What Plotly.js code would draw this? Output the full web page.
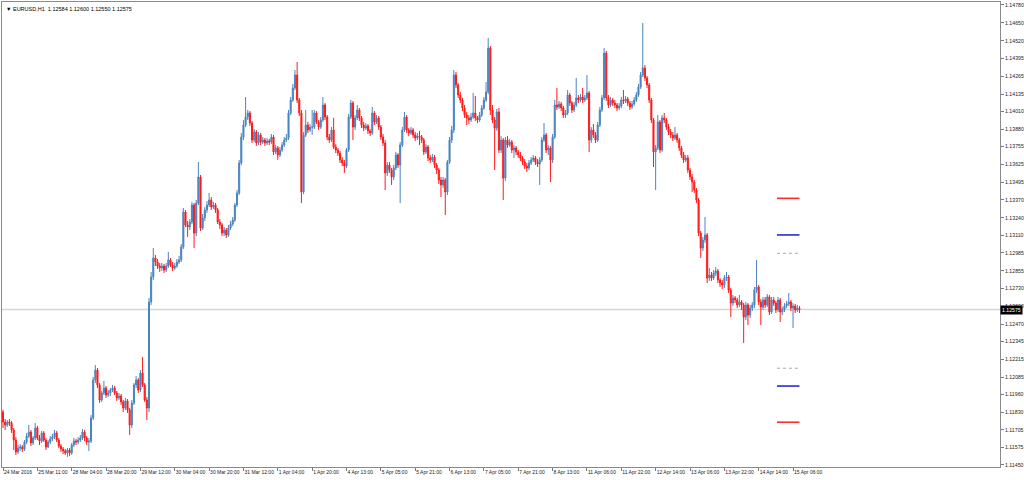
<!DOCTYPE html>
<html>
<head>
<meta charset="utf-8">
<script src="https://cdn.plot.ly/plotly-3.0.1.min.js"></script>
<style>
html,body{margin:0;padding:0;background:#fff;}
#chart{width:1024px;height:480px;}
</style>
</head>
<body>
<div id="chart"></div>
<script>
const symbolTitle = "EURUSD,H1";
const lastBarText = ["1.12584", "1.12600", "1.12550", "1.12575"];

const opens = [
1.11833,1.11761,1.11739,1.11761,1.11753,1.11703,1.11630,1.11544,1.11572,1.11580,
1.11565,1.11616,1.11659,1.11688,1.11609,1.11645,1.11717,1.11645,1.11623,1.11681,
1.11630,1.11580,1.11616,1.11638,1.11652,1.11681,1.11630,1.11587,1.11565,1.11551,
1.11537,1.11558,1.11537,1.11594,1.11623,1.11616,1.11630,1.11645,1.11688,1.11645,
1.11616,1.11623,1.11790,1.12065,1.12137,1.12029,1.11920,1.11971,1.12007,1.11956,
1.11971,1.11992,1.12007,1.11971,1.11935,1.11949,1.11906,1.11862,1.11913,1.11848,
1.11739,1.11898,1.12029,1.12065,1.11992,1.12116,1.12029,1.11920,1.11862,1.12630,
1.12811,1.12948,1.12919,1.12890,1.12876,1.12890,1.12861,1.12890,1.12934,1.12897,
1.12876,1.12890,1.12919,1.12934,1.13028,1.13281,1.13187,1.13173,1.13209,1.13332,
1.13129,1.13346,1.13535,1.13165,1.13238,1.13296,1.13332,1.13368,1.13317,1.13332,
1.13296,1.13209,1.13187,1.13129,1.13151,1.13115,1.13165,1.13194,1.13223,1.13332,
1.13419,1.13636,1.13824,1.13911,1.13969,1.13998,1.13925,1.13802,1.13860,1.13781,
1.13839,1.13788,1.13802,1.13781,1.13795,1.13788,1.13824,1.13716,1.13745,1.13694,
1.13730,1.13766,1.13802,1.13817,1.13998,1.14092,1.14179,1.14273,1.14092,1.13998,
1.13426,1.13839,1.13911,1.13875,1.13896,1.13896,1.13998,1.13933,1.13896,1.13947,
1.14056,1.13969,1.13824,1.13802,1.13875,1.13752,1.13730,1.13708,1.13658,1.13636,
1.13614,1.13730,1.13969,1.14070,1.13896,1.13962,1.14020,1.13962,1.13911,1.13889,
1.13904,1.13868,1.13853,1.13998,1.13933,1.13962,1.13896,1.13824,1.13781,1.13564,
1.13621,1.13585,1.13535,1.13600,1.13694,1.13621,1.13766,1.13875,1.13969,1.13875,
1.13853,1.13875,1.13839,1.13817,1.13831,1.13824,1.13802,1.13716,1.13752,1.13672,
1.13658,1.13679,1.13621,1.13585,1.13513,1.13477,1.13513,1.13426,1.13643,1.13802,
1.13875,1.14273,1.14201,1.14128,1.14092,1.14034,1.13983,1.13962,1.13947,1.13969,
1.13998,1.13962,1.13947,1.13983,1.14034,1.14092,1.14150,1.14468,1.14020,1.13947,
1.13889,1.14005,1.13730,1.13802,1.13527,1.13802,1.13766,1.13788,1.13730,1.13745,
1.13716,1.13694,1.13672,1.13643,1.13614,1.13600,1.13636,1.13658,1.13672,1.13643,
1.13629,1.13658,1.13802,1.13839,1.13730,1.13745,1.13658,1.13824,1.14056,1.14041,
1.14063,1.14034,1.13983,1.13998,1.14128,1.14070,1.14020,1.14056,1.14107,1.14092,
1.14114,1.14092,1.14107,1.14143,1.13802,1.13875,1.13839,1.13802,1.13911,1.14020,
1.14107,1.14432,1.14107,1.14056,1.14092,1.14070,1.14056,1.14034,1.14049,1.14092,
1.14085,1.14099,1.14070,1.14041,1.14063,1.14092,1.14128,1.14186,1.14273,1.14324,
1.14251,1.14201,1.14092,1.13947,1.13716,1.13745,1.13933,1.13730,1.13962,1.13947,
1.13896,1.13860,1.13839,1.13817,1.13839,1.13802,1.13745,1.13694,1.13658,1.13672,
1.13585,1.13535,1.13498,1.13440,1.13368,1.13129,1.13020,1.13078,1.13115,1.12803,
1.12825,1.12803,1.12839,1.12854,1.12789,1.12767,1.12753,1.12803,1.12811,1.12716,
1.12622,1.12659,1.12644,1.12608,1.12630,1.12608,1.12521,1.12608,1.12535,1.12586,
1.12608,1.12716,1.12738,1.12630,1.12593,1.12644,1.12608,1.12666,1.12557,1.12644,
1.12622,1.12572,1.12644,1.12557,1.12572,1.12601,1.12615,1.12630,1.12586,1.12601,
1.12572,1.12584
];

const highs = [
1.11848,1.11782,1.11775,1.11782,1.11768,1.11717,1.11652,1.11594,1.11601,1.11594,
1.11630,1.11681,1.11739,1.11703,1.11659,1.11753,1.11732,1.11667,1.11696,1.11696,
1.11645,1.11630,1.11659,1.11674,1.11703,1.11696,1.11645,1.11601,1.11580,1.11565,
1.11572,1.11572,1.11609,1.11645,1.11638,1.11652,1.11667,1.11710,1.11703,1.11659,
1.11645,1.11811,1.12087,1.12173,1.12152,1.12043,1.11985,1.12058,1.12021,1.11992,
1.12007,1.12029,1.12021,1.11985,1.11971,1.11963,1.11920,1.11935,1.11927,1.11862,
1.11920,1.12043,1.12094,1.12079,1.12137,1.12231,1.12043,1.11942,1.12659,1.12847,
1.13020,1.12970,1.12941,1.12912,1.12912,1.12905,1.12912,1.12992,1.12948,1.12919,
1.12912,1.12941,1.12963,1.13049,1.13310,1.13296,1.13216,1.13230,1.13354,1.13346,
1.13368,1.13643,1.13549,1.13267,1.13317,1.13361,1.13419,1.13390,1.13354,1.13346,
1.13310,1.13230,1.13202,1.13173,1.13165,1.13187,1.13216,1.13245,1.13346,1.13440,
1.13658,1.13853,1.13947,1.14114,1.14020,1.14012,1.13940,1.13882,1.13875,1.13860,
1.13853,1.13824,1.13817,1.13817,1.13810,1.13846,1.13839,1.13766,1.13759,1.13752,
1.13788,1.13824,1.13846,1.14020,1.14114,1.14208,1.14309,1.14367,1.14107,1.14020,
1.13860,1.14020,1.13933,1.13918,1.14020,1.14020,1.14012,1.13947,1.13969,1.14114,
1.14070,1.13983,1.13846,1.13896,1.13962,1.13773,1.13745,1.13723,1.13679,1.13658,
1.13745,1.13991,1.14092,1.14085,1.13983,1.14056,1.14034,1.13976,1.13933,1.13925,
1.13918,1.13882,1.14041,1.14012,1.13983,1.13976,1.13911,1.13846,1.13802,1.13643,
1.13643,1.13600,1.13621,1.13716,1.13708,1.13788,1.13896,1.14005,1.13983,1.13889,
1.13896,1.13889,1.13860,1.13853,1.13868,1.13839,1.13817,1.13773,1.13766,1.13694,
1.13701,1.13694,1.13636,1.13600,1.13535,1.13535,1.13527,1.13658,1.13824,1.13904,
1.14309,1.14295,1.14215,1.14150,1.14107,1.14056,1.14005,1.13983,1.13998,1.14143,
1.14121,1.13976,1.14005,1.14056,1.14114,1.14222,1.14541,1.14483,1.14056,1.13969,
1.14027,1.14034,1.13831,1.13817,1.13824,1.13831,1.13810,1.13802,1.13766,1.13759,
1.13730,1.13716,1.13687,1.13665,1.13636,1.13658,1.13679,1.13694,1.13687,1.13665,
1.13679,1.13824,1.13925,1.13853,1.13766,1.13759,1.13846,1.14092,1.14179,1.14085,
1.14078,1.14049,1.14020,1.14164,1.14143,1.14085,1.14078,1.14251,1.14128,1.14135,
1.14179,1.14128,1.14273,1.14157,1.13896,1.13918,1.13860,1.13933,1.14041,1.14128,
1.14468,1.14447,1.14128,1.14114,1.14107,1.14092,1.14070,1.14070,1.14114,1.14164,
1.14121,1.14114,1.14085,1.14085,1.14114,1.14150,1.14208,1.14295,1.14650,1.14345,
1.14266,1.14215,1.14107,1.13962,1.13766,1.13983,1.13947,1.13983,1.13998,1.13962,
1.13918,1.13882,1.13860,1.13896,1.13853,1.13817,1.13759,1.13716,1.13694,1.13694,
1.13600,1.13556,1.13513,1.13455,1.13382,1.13144,1.13100,1.13245,1.13129,1.12876,
1.12847,1.12861,1.12883,1.12868,1.12803,1.12789,1.12825,1.12847,1.12825,1.12731,
1.12680,1.12673,1.12659,1.12680,1.12644,1.12622,1.12630,1.12622,1.12608,1.12630,
1.12738,1.12934,1.12753,1.12651,1.12666,1.12666,1.12687,1.12680,1.12666,1.12666,
1.12637,1.12666,1.12659,1.12593,1.12622,1.12637,1.12695,1.12644,1.12622,1.12615,
1.12608,1.12600
];

const lows = [
1.11717,1.11703,1.11725,1.11732,1.11681,1.11558,1.11522,1.11529,1.11551,1.11544,
1.11551,1.11601,1.11645,1.11587,1.11594,1.11630,1.11630,1.11594,1.11609,1.11616,
1.11558,1.11572,1.11601,1.11623,1.11638,1.11616,1.11572,1.11544,1.11529,1.11522,
1.11508,1.11515,1.11522,1.11580,1.11594,1.11601,1.11616,1.11630,1.11623,1.11594,
1.11551,1.11609,1.11775,1.12043,1.12007,1.11898,1.11906,1.11956,1.11935,1.11942,
1.11949,1.11978,1.11956,1.11913,1.11920,1.11884,1.11833,1.11848,1.11826,1.11667,
1.11717,1.11884,1.12007,1.11971,1.11978,1.12014,1.11906,1.11775,1.11833,1.12608,
1.12789,1.12890,1.12868,1.12847,1.12854,1.12839,1.12847,1.12876,1.12883,1.12854,
1.12861,1.12876,1.12905,1.12919,1.13013,1.13173,1.13100,1.13151,1.13194,1.13020,
1.13107,1.13332,1.13144,1.13151,1.13216,1.13274,1.13317,1.13296,1.13303,1.13274,
1.13194,1.13158,1.13107,1.13107,1.13093,1.13100,1.13151,1.13180,1.13209,1.13317,
1.13404,1.13621,1.13802,1.13896,1.13947,1.13904,1.13781,1.13788,1.13759,1.13766,
1.13766,1.13773,1.13759,1.13766,1.13766,1.13773,1.13694,1.13701,1.13658,1.13679,
1.13716,1.13752,1.13788,1.13802,1.13983,1.14078,1.14164,1.14070,1.13976,1.13346,
1.13411,1.13824,1.13853,1.13860,1.13839,1.13882,1.13918,1.13875,1.13882,1.13933,
1.13947,1.13802,1.13781,1.13788,1.13737,1.13708,1.13687,1.13636,1.13614,1.13564,
1.13600,1.13716,1.13954,1.13802,1.13875,1.13947,1.13940,1.13889,1.13868,1.13875,
1.13846,1.13831,1.13839,1.13911,1.13918,1.13875,1.13802,1.13759,1.13440,1.13542,
1.13564,1.13477,1.13513,1.13585,1.13600,1.13346,1.13752,1.13860,1.13853,1.13831,
1.13839,1.13817,1.13795,1.13802,1.13766,1.13781,1.13694,1.13701,1.13650,1.13636,
1.13643,1.13600,1.13556,1.13484,1.13390,1.13455,1.13259,1.13404,1.13629,1.13781,
1.13853,1.14179,1.14107,1.14070,1.14012,1.13962,1.13911,1.13918,1.13933,1.13954,
1.13940,1.13925,1.13933,1.13969,1.14020,1.14078,1.14135,1.13983,1.13925,1.13585,
1.13868,1.13708,1.13708,1.13368,1.13506,1.13745,1.13752,1.13708,1.13672,1.13694,
1.13672,1.13650,1.13621,1.13592,1.13571,1.13585,1.13621,1.13643,1.13621,1.13607,
1.13477,1.13643,1.13788,1.13708,1.13694,1.13498,1.13636,1.13810,1.14020,1.14027,
1.14012,1.13962,1.13962,1.13983,1.14049,1.13998,1.14005,1.14041,1.14070,1.14078,
1.14070,1.14078,1.14092,1.13716,1.13781,1.13817,1.13781,1.13788,1.13896,1.14005,
1.14092,1.14085,1.14034,1.14041,1.14049,1.14034,1.14012,1.14020,1.14034,1.14063,
1.14070,1.14049,1.14020,1.14027,1.14049,1.14078,1.14114,1.14172,1.14259,1.14230,
1.14179,1.14070,1.13925,1.13607,1.13440,1.13730,1.13708,1.13716,1.13925,1.13875,
1.13839,1.13817,1.13795,1.13802,1.13781,1.13723,1.13672,1.13636,1.13643,1.13564,
1.13513,1.13426,1.13419,1.13346,1.13107,1.12948,1.12999,1.13057,1.12767,1.12782,
1.12782,1.12789,1.12818,1.12767,1.12738,1.12724,1.12731,1.12782,1.12695,1.12521,
1.12601,1.12622,1.12586,1.12593,1.12572,1.12333,1.12499,1.12463,1.12514,1.12564,
1.12586,1.12695,1.12608,1.12463,1.12572,1.12586,1.12593,1.12535,1.12543,1.12601,
1.12550,1.12557,1.12485,1.12535,1.12557,1.12586,1.12601,1.12564,1.12441,1.12550,
1.12557,1.12550
];

const closes = [
1.11761,1.11739,1.11761,1.11753,1.11703,1.11630,1.11544,1.11572,1.11580,1.11565,
1.11616,1.11659,1.11688,1.11609,1.11645,1.11717,1.11645,1.11623,1.11681,1.11630,
1.11580,1.11616,1.11638,1.11652,1.11681,1.11630,1.11587,1.11565,1.11551,1.11537,
1.11558,1.11537,1.11594,1.11623,1.11616,1.11630,1.11645,1.11688,1.11645,1.11616,
1.11623,1.11790,1.12065,1.12137,1.12029,1.11920,1.11971,1.12007,1.11956,1.11971,
1.11992,1.12007,1.11971,1.11935,1.11949,1.11906,1.11862,1.11913,1.11848,1.11739,
1.11898,1.12029,1.12065,1.11992,1.12116,1.12029,1.11920,1.11862,1.12630,1.12811,
1.12948,1.12919,1.12890,1.12876,1.12890,1.12861,1.12890,1.12934,1.12897,1.12876,
1.12890,1.12919,1.12934,1.13028,1.13281,1.13187,1.13173,1.13209,1.13332,1.13129,
1.13346,1.13535,1.13165,1.13238,1.13296,1.13332,1.13368,1.13317,1.13332,1.13296,
1.13209,1.13187,1.13129,1.13151,1.13115,1.13165,1.13194,1.13223,1.13332,1.13419,
1.13636,1.13824,1.13911,1.13969,1.13998,1.13925,1.13802,1.13860,1.13781,1.13839,
1.13788,1.13802,1.13781,1.13795,1.13788,1.13824,1.13716,1.13745,1.13694,1.13730,
1.13766,1.13802,1.13817,1.13998,1.14092,1.14179,1.14273,1.14092,1.13998,1.13426,
1.13839,1.13911,1.13875,1.13896,1.13896,1.13998,1.13933,1.13896,1.13947,1.14056,
1.13969,1.13824,1.13802,1.13875,1.13752,1.13730,1.13708,1.13658,1.13636,1.13614,
1.13730,1.13969,1.14070,1.13896,1.13962,1.14020,1.13962,1.13911,1.13889,1.13904,
1.13868,1.13853,1.13998,1.13933,1.13962,1.13896,1.13824,1.13781,1.13564,1.13621,
1.13585,1.13535,1.13600,1.13694,1.13621,1.13766,1.13875,1.13969,1.13875,1.13853,
1.13875,1.13839,1.13817,1.13831,1.13824,1.13802,1.13716,1.13752,1.13672,1.13658,
1.13679,1.13621,1.13585,1.13513,1.13477,1.13513,1.13426,1.13643,1.13802,1.13875,
1.14273,1.14201,1.14128,1.14092,1.14034,1.13983,1.13962,1.13947,1.13969,1.13998,
1.13962,1.13947,1.13983,1.14034,1.14092,1.14150,1.14468,1.14020,1.13947,1.13889,
1.14005,1.13730,1.13802,1.13527,1.13802,1.13766,1.13788,1.13730,1.13745,1.13716,
1.13694,1.13672,1.13643,1.13614,1.13600,1.13636,1.13658,1.13672,1.13643,1.13629,
1.13658,1.13802,1.13839,1.13730,1.13745,1.13658,1.13824,1.14056,1.14041,1.14063,
1.14034,1.13983,1.13998,1.14128,1.14070,1.14020,1.14056,1.14107,1.14092,1.14114,
1.14092,1.14107,1.14143,1.13802,1.13875,1.13839,1.13802,1.13911,1.14020,1.14107,
1.14432,1.14107,1.14056,1.14092,1.14070,1.14056,1.14034,1.14049,1.14092,1.14085,
1.14099,1.14070,1.14041,1.14063,1.14092,1.14128,1.14186,1.14273,1.14324,1.14251,
1.14201,1.14092,1.13947,1.13716,1.13745,1.13933,1.13730,1.13962,1.13947,1.13896,
1.13860,1.13839,1.13817,1.13839,1.13802,1.13745,1.13694,1.13658,1.13672,1.13585,
1.13535,1.13498,1.13440,1.13368,1.13129,1.13020,1.13078,1.13115,1.12803,1.12825,
1.12803,1.12839,1.12854,1.12789,1.12767,1.12753,1.12803,1.12811,1.12716,1.12622,
1.12659,1.12644,1.12608,1.12630,1.12608,1.12521,1.12608,1.12535,1.12586,1.12608,
1.12716,1.12738,1.12630,1.12593,1.12644,1.12608,1.12666,1.12557,1.12644,1.12622,
1.12572,1.12644,1.12557,1.12572,1.12601,1.12615,1.12630,1.12586,1.12601,1.12572,
1.12586,1.12575
];

const timeLabels = ["24 Mar 2016","25 Mar 11:00","28 Mar 04:00","28 Mar 20:00","29 Mar 12:00",
"30 Mar 04:00","30 Mar 20:00","31 Mar 12:00","1 Apr 04:00","1 Apr 20:00","4 Apr 13:00",
"5 Apr 05:00","5 Apr 21:00","6 Apr 13:00","7 Apr 05:00","7 Apr 21:00","8 Apr 13:00",
"11 Apr 06:00","11 Apr 22:00","12 Apr 14:00","13 Apr 06:00","13 Apr 22:00","14 Apr 14:00","15 Apr 06:00"];

const priceLabels = ["1.14780","1.14650","1.14520","1.14395","1.14265","1.14135","1.14010",
"1.13880","1.13755","1.13625","1.13495","1.13370","1.13240","1.13110","1.12985","1.12855",
"1.12730","1.12600","1.12470","1.12345","1.12215","1.12085","1.11960","1.11830","1.11705",
"1.11575","1.11450"];

// pivot-style levels drawn at the right end of the chart
const pivotLevels = [1.13380, 1.13115, 1.12982, 1.12150, 1.12021, 1.11759];
const pivotKinds  = ["R", "B", "M", "M", "B", "R"];

// ---------- build ----------
const barIndex = closes.map((_, i) => i);
const labelStep = 16; // one time label every 16 hourly bars
const lastIdx = closes.length - 1;
const lastClose = closes[lastIdx];

const UP = "#4a84c0";
const DOWN = "#ff1a1a";

const trace = {
  type: "candlestick",
  x: barIndex,
  open: opens, high: highs, low: lows, close: closes,
  increasing: { line: { color: UP, width: 1 }, fillcolor: UP },
  decreasing: { line: { color: DOWN, width: 1 }, fillcolor: DOWN },
  whiskerwidth: 0,
  hoverinfo: "skip",
  showlegend: false
};

const kindStyle = {
  R: { color: "#ff2a2a", width: 1.6, dash: "solid" },
  B: { color: "#2a2ad0", width: 1.6, dash: "solid" },
  M: { color: "#a8a8a8", width: 1, dash: "dot" }
};

const shapes = [
  { type: "line", xref: "paper", x0: 0, x1: 1, yref: "y", y0: lastClose, y1: lastClose,
    line: { color: "#d6d6d6", width: 1.5 }, layer: "below" }
];
pivotLevels.forEach((lv, k) => {
  const st = kindStyle[pivotKinds[k]];
  shapes.push({ type: "line", xref: "x", yref: "y", x0: lastIdx - 10.5, x1: lastIdx,
    y0: lv, y1: lv, line: { color: st.color, width: st.width, dash: st.dash } });
});

const FONT = "Liberation Sans, Arial, sans-serif";

const layout = {
  width: 1024, height: 480,
  margin: { l: 2, r: 24, t: 2, b: 13, pad: 0 },
  paper_bgcolor: "#ffffff",
  plot_bgcolor: "#ffffff",
  showlegend: false,
  font: { family: FONT, size: 5, color: "#222" },
  xaxis: {
    range: [-0.47, 464.4],
    tickmode: "array",
    tickvals: timeLabels.map((_, k) => k * labelStep),
    ticktext: timeLabels,
    tickangle: 0,
    ticks: "outside", ticklen: 3, tickwidth: 1, tickcolor: "#7a7a7a",
    ticklabelposition: "outside right",
    ticklabelstandoff: 0,
    tickfont: { family: FONT, size: 5, color: "#222" },
    showline: true, mirror: true, linecolor: "#8a8a8a", linewidth: 1,
    showgrid: false, zeroline: false,
    rangeslider: { visible: false },
    fixedrange: true
  },
  yaxis: {
    side: "right",
    range: [1.114349, 1.148015],
    tickmode: "array",
    tickvals: priceLabels.map(Number),
    ticktext: priceLabels,
    ticks: "outside", ticklen: 3, tickwidth: 1, tickcolor: "#7a7a7a",
    tickfont: { family: FONT, size: 5.2, color: "#222" },
    showline: true, mirror: true, linecolor: "#8a8a8a", linewidth: 1,
    showgrid: false, zeroline: false,
    fixedrange: true
  },
  shapes: shapes,
  annotations: [
    { xref: "paper", yref: "paper", x: 0, y: 1, xanchor: "left", yanchor: "top",
      xshift: 2, yshift: -2, showarrow: false,
      text: "\u25BC\u00A0" + symbolTitle + "\u00A0\u00A0" + lastBarText.join("\u00A0"),
      font: { family: FONT, size: 5.5, color: "#000" } },
    { xref: "paper", yref: "y", x: 1, y: lastClose, xanchor: "left", yanchor: "middle",
      xshift: 0, showarrow: false, text: lastBarText[3],
      bgcolor: "#000000", borderpad: 1,
      font: { family: FONT, size: 5.2, color: "#ffffff" } }
  ]
};

Plotly.newPlot("chart", [trace], layout, { staticPlot: true, displayModeBar: false });
</script>
</body>
</html>
